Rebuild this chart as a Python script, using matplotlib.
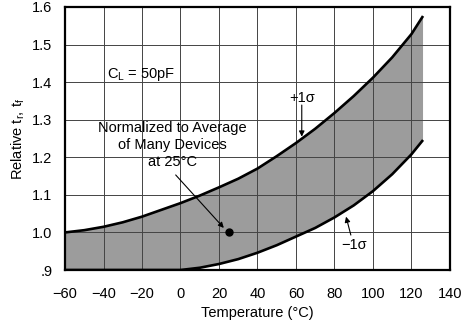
import numpy as np
import matplotlib
matplotlib.use("Agg")
import matplotlib.pyplot as plt

plt.rcParams['font.family'] = ['Liberation Sans', 'DejaVu Sans']
plt.rcParams['mathtext.fontset'] = 'custom'
plt.rcParams['mathtext.rm'] = 'Liberation Sans'
plt.rcParams['mathtext.it'] = 'Liberation Sans:italic'
plt.rcParams['mathtext.default'] = 'regular'

# data
temps = [-60, -50, -40, -30, -20, -10, 0, 10, 20, 30, 40, 50, 60, 70, 80, 90, 100, 110, 120, 126]
upper = [1.000, 1.006, 1.015, 1.027, 1.042, 1.060, 1.078, 1.098, 1.120, 1.143,
         1.170, 1.203, 1.238, 1.276, 1.318, 1.363, 1.412, 1.466, 1.528, 1.576]
lower = [0.900, 0.900, 0.900, 0.900, 0.900, 0.900, 0.900, 0.906, 0.916, 0.929,
         0.946, 0.966, 0.989, 1.012, 1.040, 1.072, 1.110, 1.155, 1.208, 1.246]
ref_temp = 25
ref_value = 1.0

x_ticks = [-60, -40, -20, 0, 20, 40, 60, 80, 100, 120, 140]
x_labels = ['\u221260', '\u221240', '\u221220', '0', '20', '40', '60', '80', '100', '120', '140']
y_ticks = [0.9, 1.0, 1.1, 1.2, 1.3, 1.4, 1.5, 1.6]
y_labels = ['.9', '1.0', '1.1', '1.2', '1.3', '1.4', '1.5', '1.6']

fs = 10.5
fig = plt.figure(figsize=(4.65, 3.25), dpi=100)
ax = fig.add_axes([0.1398, 0.1692, 0.8279, 0.8093])

# shaded band between -1 sigma and +1 sigma
ax.fill_between(temps, lower, upper, facecolor='#9c9c9c', edgecolor='none', zorder=1)
ax.plot(temps, upper, color='black', lw=1.9, zorder=3, solid_capstyle='butt')
ax.plot(temps, lower, color='black', lw=1.9, zorder=3, solid_capstyle='butt')
ax.plot([ref_temp], [ref_value], 'o', color='black', ms=5, zorder=4)

ax.set_xlim(-60, 140)
ax.set_ylim(0.9, 1.6)
ax.set_xticks(x_ticks)
ax.set_xticklabels(x_labels)
ax.set_yticks(y_ticks)
ax.set_yticklabels(y_labels)
ax.tick_params(length=0, labelsize=fs)
ax.tick_params(axis='x', pad=12)
ax.tick_params(axis='y', pad=9)

ax.set_axisbelow('line')
ax.grid(True, color='#444444', lw=0.7)
for s in ax.spines.values():
    s.set_linewidth(1.6)
    s.set_zorder(5)

ax.set_xlabel('Temperature (\u00b0C)', fontsize=fs, labelpad=4)
ax.set_ylabel('Relative t$_r$, t$_f$', fontsize=fs, labelpad=4)

# annotations
ax.text(-38, 1.419, 'C$_L$ = 50pF', fontsize=fs, ha='left', va='center')
ax.text(-4.3, 1.233, 'Normalized to Average\nof Many Devices\nat 25\u00b0C',
        fontsize=fs, ha='center', va='center', linespacing=1.3)
ax.annotate('', xy=(22.5, 1.012), xytext=(-2.5, 1.153),
            arrowprops=dict(arrowstyle='-|>', lw=0.8, color='black', mutation_scale=8,
                            shrinkA=0, shrinkB=0))
ax.text(63, 1.357, '+1\u03c3', fontsize=fs, ha='center', va='center')
ax.annotate('', xy=(63, 1.255), xytext=(63, 1.339),
            arrowprops=dict(arrowstyle='-|>', lw=0.8, color='black', mutation_scale=8,
                            shrinkA=0, shrinkB=0))
ax.text(90.3, 0.966, '\u22121\u03c3', fontsize=fs, ha='center', va='center')
ax.annotate('', xy=(86, 1.042), xytext=(88.5, 0.993),
            arrowprops=dict(arrowstyle='-|>', lw=0.8, color='black', mutation_scale=8,
                            shrinkA=0, shrinkB=0))

fig.savefig('out.png', dpi=100)
